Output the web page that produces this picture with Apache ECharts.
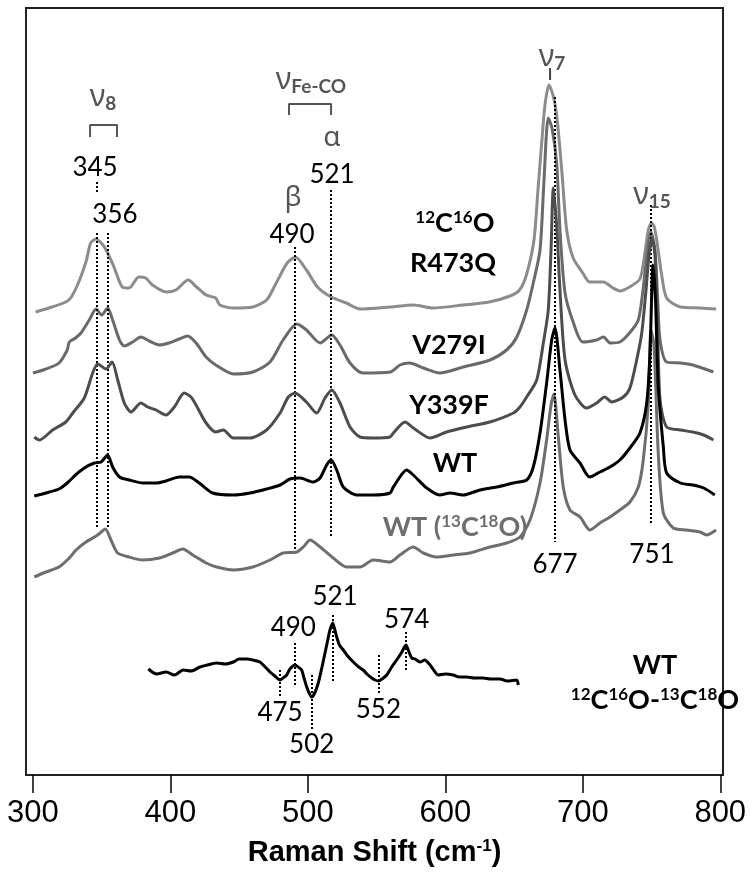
<!DOCTYPE html>
<html><head><meta charset="utf-8">
<script src="https://cdn.jsdelivr.net/npm/echarts@6/dist/echarts.min.js"></script>
<style>html,body{margin:0;padding:0;background:#fff}#c{width:750px;height:885px}</style>
</head><body><div id="c"></div>
<script>
// Raman shift (cm-1) vs offset intensity (arbitrary units, stacked)
const traceR473Q = [[302,463],[314,468],[324,473],[328,478],[334,495],[339,515],[342,532],[346,536],[351,530],[354,523],[359,508],[365,488],[370,487],[377,498],[382,497],[387,490],[397,483],[404,485],[413,495],[419,488],[426,480],[433,477],[436,470],[446,467],[460,468],[470,475],[477,492],[485,512],[491,518],[499,505],[507,488],[517,478],[528,472],[538,466],[560,468],[577,470],[591,467],[613,470],[632,473],[647,479],[654,485],[659,500],[664.5,535],[667.4,585],[670.3,635],[672.5,670],[675.4,690],[678.3,680],[681,660],[684.7,605],[688.3,545],[693,517],[700,502],[705,493],[715,493],[722,487],[727,484],[734,488],[741.6,496],[745.2,522],[747.7,545],[750,552],[751.8,549],[753.8,535],[757.4,500],[761,477],[771,468],[785,467],[797,466]];
const traceV279I = [[300,402],[309.5,406],[319,412],[325,425],[326.5,433],[331,437],[335,442],[341,455],[346,466],[350,460],[354.4,467],[358,455],[363,435],[366.5,429],[372.6,433],[378.6,438],[384.7,434],[392,430],[399,432],[406.5,436],[412.6,439],[418.7,432],[426,418],[433,410],[446,401],[460,403],[472.5,413],[482,435],[492,451],[499,445],[509,432],[517.4,440],[523.4,430],[530.7,412],[540,402],[560,403],[567,410],[574,412],[584,407],[596,402],[613,408],[632.5,415],[644.6,425],[652,438],[659.2,465],[664,492],[668.9,525],[671.8,595],[674.9,657],[677.6,647],[681,612],[683.4,545],[687.1,482],[693,453],[700,433],[710,435],[715,438],[720,432],[727,433],[734,442],[740.4,455],[743.8,485],[746.7,520],[749.6,543],[752.5,525],[754.5,475],[756.2,435],[761,413],[771,412],[780,410],[795,403]];
const traceY339F = [[301,338],[304.7,335],[314.4,345],[324,353],[329,362],[337.4,377],[343.5,402],[347.2,411],[353.2,406],[357.6,413],[361.7,395],[366.5,372],[371.4,363],[378.6,372],[383.5,368],[389.6,365],[396.8,360],[402.9,368],[410.1,382],[415,378],[418.7,370],[426,352],[433,343],[438.5,345],[445.8,337],[458,337],[470,345],[479.8,362],[485.8,378],[490.7,382],[499,373],[506.4,362],[512.5,377],[517.4,385],[523.4,372],[530.7,348],[538,338],[547.6,337],[559.8,338],[562.2,342],[570.7,353],[576.7,347],[589,337],[601,343],[615.6,348],[632.5,353],[649.5,362],[654.3,368],[659.2,378],[666.5,395],[671.3,432],[674.9,465],[676.9,525],[678.6,587],[681.2,545],[683.4,485],[687.1,415],[694.3,380],[702.8,367],[710,372],[716,378],[721,373],[729.5,378],[734.3,387],[739.2,415],[742.9,442],[746,485],[748.2,520],[750.4,537],[752.5,520],[754.3,455],[756.2,375],[761,348],[771,345],[780,343],[788,340],[795,335]];
const traceWT = [[301,279],[309.5,282],[319,286],[325,292],[331,300],[337.4,307],[344.7,312],[349.6,313],[354.4,320],[358,308],[363,298],[370,295],[380,292],[389.6,292],[396.8,294],[406.5,298],[413.8,298],[421,292],[430.8,282],[445.8,280],[458,282],[470,286],[479.8,290],[487,296],[494.3,297],[504,293],[508.9,297],[513.7,310],[516.9,315],[521,305],[525.8,288],[535.5,280],[547.6,280],[559.8,282],[562.2,288],[571.9,305],[576.7,300],[586.5,287],[596,280],[603.4,282],[613,280],[625.2,285],[637.4,288],[649.5,292],[659.2,295],[664,308],[668.9,342],[673.7,392],[677.4,435],[679.8,447],[683.4,405],[687.1,355],[690.7,325],[698,312],[705,298],[712.5,303],[719.8,308],[727,315],[734.3,327],[741.6,342],[746.5,372],[748.9,422],[751.1,510],[752.9,475],[754.9,388],[758.6,328],[761,302],[771,292],[780,290],[788,287],[796,280]];
const traceWT13C18O = [[301,198],[309.5,203],[319,208],[326.5,217],[331.4,225],[338.6,233],[347.2,240],[352.7,246],[356.8,235],[361.7,222],[370,218],[380,215],[392,217],[401.7,222],[409,226],[416.3,220],[426,212],[433.7,208],[445.8,205],[460,208],[472.5,215],[482,222],[492,223],[496.7,228],[501.6,235],[509,228],[518.5,217],[528.3,208],[538,208],[547.6,215],[559.8,213],[567,220],[576.7,228],[584,222],[593.7,218],[605.8,220],[618,222],[632.5,228],[644.6,232],[654.3,238],[661.6,255],[668.9,292],[673.7,335],[676.9,370],[679,381],[682.2,338],[685.8,288],[690.7,265],[698,258],[705.2,245],[712.5,252],[719.8,258],[727,265],[734.3,273],[740.4,288],[744,315],[747.7,372],[749.6,445],[751.8,430],[754.9,322],[758.6,262],[765.8,247],[775.6,245],[785.3,243],[790,240],[797,245]];
const traceDiff = [[384,106],[390,101],[397,103],[403,100],[409.4,105],[415,104],[421.6,108],[427,110],[433.7,112],[440,111],[445.8,113],[450,116],[455.5,116],[460,115],[465.2,113],[469,108],[472.5,103],[476,99],[479.8,95],[482,97],[484.6,100],[487,106],[490.7,110],[493,108],[495.5,105],[497,98],[499.2,88],[501,82],[502.8,78],[505,82],[507.6,92],[510,106],[512.5,122],[514.5,135],[516.1,145],[518.1,152],[519.5,146],[521,138],[523,130],[525.8,125],[529,119],[533.1,113],[537,108],[540.3,105],[543,101],[546.5,97],[549,95],[551.3,94],[554,96],[557.4,100],[561,108],[564.6,115],[568,122],[571.4,130],[573,125],[575.6,117],[578,116],[581.6,113],[585,115],[588.9,110],[592,104],[594.9,100],[600,101],[605.8,100],[610,98],[615.6,98],[621,97],[627.6,97],[633,96],[639.8,96],[645,94],[651.9,95],[653.1,90]];

const xTicks = [300, 400, 500, 600, 700, 800];

// annotation positions (wavenumber, stacked intensity)
const dottedMarks = [[346.4,593,582],[346.4,542,248],[354.4,542,248],[490.2,528,225],[516.9,585,238],[679.8,678,233],[749.6,570,252],
  [490.7,132,90],[479.8,105,77],[502.8,100,45],[518.1,160,92],[551.3,120,80],[571.4,143,103]];
const numberLabels = [[345.2,607,'345'],[359.7,560,'356'],[517.6,600,'521'],[488.5,540,'490'],[679.8,210,'677'],[750.3,220,'751'],
  [489.4,147,'490'],[519.8,178,'521'],[571.9,155,'574'],[479.8,62,'475'],[502.8,30,'502'],[551.3,65,'552']];
const bandLabels = [[351,678,'{n|ν}{s|8}'],[502.3,695,'{n|ν}{s|Fe-CO}'],[517.6,637,'{a|α}'],[489.2,577,'{a|β}'],[677.6,718,'{n|ν}{s|7}'],[750.3,580,'{n|ν}{s|15}']];
const sampleLabels = [[607,552,'{p|12}{b|C}{p|16}{b|O}'],[605.6,512,'{b|R473Q}'],[602.7,430,'{b|V279I}'],[602.7,370,'{b|Y339F}'],[607,312,'{b|WT}'],[607,248,'{g|WT (}{gp|13}{g|C}{gp|18}{g|O)}'],[752.5,110,'{b|WT}'],[752.5,75,'{p|12}{b|C}{p|16}{b|O-}{p|13}{b|C}{p|18}{b|O}']];
const brackets = [[[341.6,638],[341.6,650],[361.2,650],[361.2,638]],[[486.3,660],[486.3,671],[516.9,671],[516.9,660]]];
const nu7Tick = [[676.2,695],[676.2,707]];

const chart = echarts.init(document.getElementById('c'));
const lineS = (name, data, color, z) => ({type:'line', name, data, showSymbol:false, symbol:'none', z, smooth:0.25,
  lineStyle:{color, width:3}, silent:true, animation:false});

const textRich = {
  n:{fontSize:30, color:'#555', fontFamily:'Noto Sans'},
  a:{fontSize:28, color:'#555', fontFamily:'Noto Sans'},
  s:{fontSize:19, color:'#555', fontFamily:'Lato', fontWeight:'bold', verticalAlign:'bottom', padding:[14,0,0,0]},
  b:{fontSize:27, fontWeight:'bold', color:'#000', fontFamily:'Lato'},
  p:{fontSize:17, fontWeight:'bold', color:'#000', fontFamily:'Lato', verticalAlign:'top', padding:[0,0,10,0]},
  g:{fontSize:27, fontWeight:'bold', color:'#6e6e6e', fontFamily:'Lato'},
  gp:{fontSize:17, fontWeight:'bold', color:'#6e6e6e', fontFamily:'Lato', verticalAlign:'top', padding:[0,0,10,0]}
};
const labelSeries = (data, label) => ({type:'scatter', symbolSize:0, silent:true, animation:false, z:8,
  itemStyle:{opacity:1}, label:Object.assign({show:true, position:'inside', formatter:p=>p.data.t}, label), data});

const series = [
  lineS('WT (13C18O)', traceWT13C18O, '#6e6e6e', 2),
  lineS('R473Q', traceR473Q, '#8c8c8c', 3),
  lineS('V279I', traceV279I, '#6a6a6a', 4),
  lineS('Y339F', traceY339F, '#4d4d4d', 5),
  lineS('WT', traceWT, '#000', 6),
  lineS('WT diff', traceDiff, '#000', 6),
  {type:'line', data:[], silent:true, animation:false, z:7,
   markLine:{symbol:'none', silent:true, animation:false, label:{show:false},
     lineStyle:{type:[2,2], color:'#000', width:2, opacity:1},
     data: dottedMarks.map(d=>[{coord:[d[0],d[1]]},{coord:[d[0],d[2]]}])}},
  ...brackets.map(b=>({type:'line', data:b, symbol:'none', silent:true, animation:false, z:7, lineStyle:{color:'#555', width:2}})),
  {type:'line', data:nu7Tick, symbol:'none', silent:true, animation:false, z:7, lineStyle:{color:'#444', width:2}},
  labelSeries(numberLabels.map(d=>({value:[d[0],d[1]], t:d[2]})), {color:'#000', fontSize:26, fontFamily:'Lato'}),
  labelSeries(bandLabels.map(d=>({value:[d[0],d[1]], t:d[2]})), {rich:textRich}),
  labelSeries(sampleLabels.map(d=>({value:[d[0],d[1]], t:d[2]})), {rich:textRich})
];

const axisFont = 'Liberation Sans, Arial';
chart.setOption({
  animation:false,
  grid:{left:26, top:8, width:697, bottom:110, show:true, borderColor:'#222', borderWidth:2, backgroundColor:'transparent'},
  xAxis:{type:'value', min:295, max:802, offset:3,
    axisLine:{show:false}, splitLine:{show:false},
    axisTick:{show:true, customValues:xTicks, length:18, lineStyle:{color:'#000', width:1.5}},
    axisLabel:{customValues:xTicks, margin:20, fontSize:31, color:'#000', fontFamily:axisFont},
    name:'{t|Raman Shift (cm}{u|-1}{t|)}', nameLocation:'middle', nameGap:60,
    nameTextStyle:{rich:{t:{fontSize:29, fontWeight:'bold', color:'#000', fontFamily:axisFont},
      u:{fontSize:17, fontWeight:'bold', color:'#000', verticalAlign:'top', padding:[0,0,10,0], fontFamily:axisFont}}}},
  yAxis:{type:'value', min:0, max:767, show:false},
  series
});
</script></body></html>
